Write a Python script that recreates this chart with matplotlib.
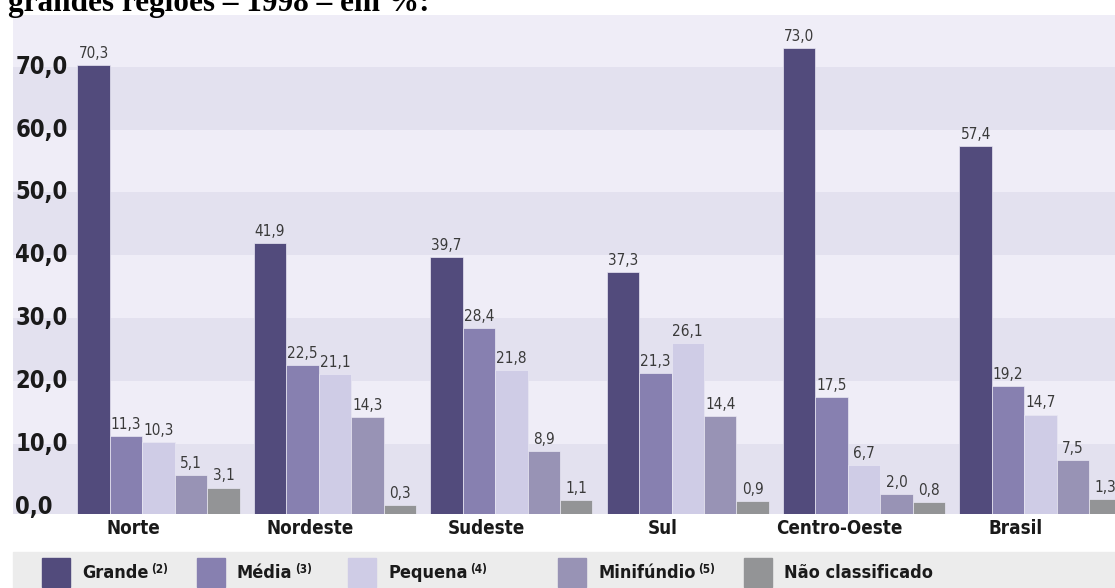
import matplotlib.pyplot as plt
import matplotlib.patches as mpatches
import numpy as np

regioes = ["Norte", "Nordeste", "Sudeste", "Sul", "Centro-Oeste", "Brasil"]
grande = [70.3, 41.9, 39.7, 37.3, 73.0, 57.4]
media = [11.3, 22.5, 28.4, 21.3, 17.5, 19.2]
pequena = [10.3, 21.1, 21.8, 26.1, 6.7, 14.7]
minifundio = [5.1, 14.3, 8.9, 14.4, 2.0, 7.5]
nao_class = [3.1, 0.3, 1.1, 0.9, 0.8, 1.3]

series = [grande, media, pequena, minifundio, nao_class]
nomes = ["Grande", "Média", "Pequena", "Minifúndio", "Não classificado"]
notas = ["(2)", "(3)", "(4)", "(5)", ""]
cores = ["#524b7c", "#8780b0", "#cfcce6", "#9893b5", "#939496"]
yticks = [0, 10, 20, 30, 40, 50, 60, 70]

FAM = ["DejaVu Sans"]
STRETCH = "condensed"

fig = plt.figure(figsize=(11.15, 5.88), dpi=100)
ax = fig.add_axes([13 / 1115, 74 / 588, 1102 / 1115, 499 / 588])

ymin, ymax = -1.1, 78.2
ax.set_xlim(-0.825, 5.422)
ax.set_ylim(ymin, ymax)

# faixas alternadas de fundo
bandas = [ymin] + yticks[1:] + [ymax]
for i in range(len(bandas) - 1):
    cor = "#e3e1ef" if i % 2 == 0 else "#efedf7"
    ax.axhspan(bandas[i], bandas[i + 1], color=cor, lw=0, zorder=0)

x = np.arange(len(regioes))
w = 0.184
for j, (vals, cor) in enumerate(zip(series, cores)):
    pos = x + (j - 2) * w
    alturas = [v - ymin for v in vals]
    ax.bar(pos, alturas, w, bottom=ymin, color=cor, edgecolor="#e9e7f3",
           linewidth=0.5, zorder=2)
    for px, v in zip(pos, vals):
        ax.annotate(f"{v:.1f}".replace(".", ","), (px, v), xytext=(0, 3),
                    textcoords="offset points", ha="center", va="bottom",
                    fontsize=11, family=FAM, fontstretch=STRETCH,
                    color="#3a3a3a", zorder=3)

# rotulos do eixo y dentro da area
for t in yticks:
    ax.text(0.002, t, f"{t:.1f}".replace(".", ","), transform=ax.get_yaxis_transform(),
            ha="left", va="center", fontsize=17, fontweight="bold",
            family=FAM, fontstretch=STRETCH, color="#1a1a1a", zorder=3)

ax.set_xticks([])
ax.set_yticks([])
for s in ax.spines.values():
    s.set_visible(False)

# nomes das regioes
for i, r in enumerate(regioes):
    ax.text(i - 0.14, -0.01, r, transform=ax.get_xaxis_transform(),
            ha="center", va="top", fontsize=13.5, fontweight="bold",
            family=FAM, fontstretch=STRETCH, color="#1a1a1a", clip_on=False)

# legenda manual
fig.patches.append(mpatches.Rectangle((13 / 1115, 0), 1102 / 1115, 36 / 588,
                                      transform=fig.transFigure, color="#ececec", zorder=0))
leg_x = [42, 197, 348, 558, 744]
rotulos = []
for lx, nome, cor in zip(leg_x, nomes, cores):
    fig.patches.append(mpatches.Rectangle((lx / 1115, 1 / 588), 28 / 1115, 29 / 588,
                                          transform=fig.transFigure, color=cor, zorder=1))
    t = fig.text((lx + 40) / 1115, 15 / 588, nome, ha="left", va="center",
                 fontsize=13, fontweight="bold", family=FAM, fontstretch=STRETCH,
                 color="#1a1a1a")
    rotulos.append(t)

renderer = fig.canvas.get_renderer()
for t, nota in zip(rotulos, notas):
    if not nota:
        continue
    bb = t.get_window_extent(renderer)
    fig.text((bb.x1 + 3) / 1115, (bb.y0 + bb.height * 0.7) / 588, nota,
             ha="left", va="center", fontsize=8.5, fontweight="bold",
             family=FAM, fontstretch=STRETCH, color="#1a1a1a")

# titulo cortado no topo
fig.text(8 / 1115, 1 - 11 / 588, "grandes regiões – 1998 – em %:", ha="left",
         va="baseline", fontsize=22.5, fontweight="bold",
         family=["Liberation Serif", "DejaVu Serif"], color="#000000")

fig.savefig("out.png", dpi=100)
